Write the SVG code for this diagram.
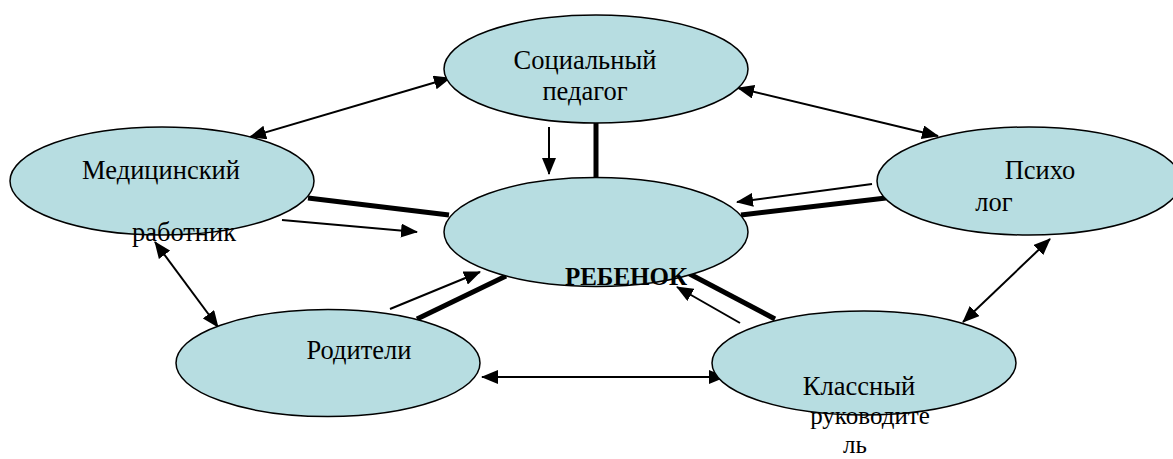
<svg xmlns="http://www.w3.org/2000/svg" width="1173" height="459" viewBox="0 0 1173 459">
<style>
.node{fill:#b7dde1;stroke:#000;stroke-width:1.5}
.t{font-family:"Liberation Serif","Times New Roman",serif;font-size:26.5px;fill:#000}
.s{font-size:25px}
.b{font-weight:bold;font-size:25px}
.thin{stroke:#000;stroke-width:2;fill:none}
.thick{stroke:#000;stroke-width:5;fill:none}
</style>
<defs>
<marker id="ah" markerUnits="userSpaceOnUse" markerWidth="17" markerHeight="14" refX="16" refY="7" orient="auto-start-reverse" viewBox="0 0 17 14">
<path d="M0,0 L17,7 L0,14 Z" fill="#000"/>
</marker>
</defs>
<rect width="1173" height="459" fill="#fff"/>
<g id="connectors">
<line class="thick" x1="596" y1="123" x2="596" y2="179"/>
<line class="thick" x1="308" y1="198" x2="449" y2="215"/>
<line class="thick" x1="886" y1="198" x2="741" y2="215"/>
<line class="thick" x1="417" y1="319" x2="506" y2="276"/>
<line class="thick" x1="775" y1="319" x2="684" y2="271"/>
<line class="thin" x1="549" y1="127" x2="549" y2="174" marker-end="url(#ah)"/>
<line class="thin" x1="282" y1="220" x2="417" y2="232" marker-end="url(#ah)"/>
<line class="thin" x1="872" y1="184" x2="737" y2="202" marker-end="url(#ah)"/>
<line class="thin" x1="390" y1="309" x2="480" y2="272" marker-end="url(#ah)"/>
<line class="thin" x1="740" y1="323" x2="677" y2="287" marker-end="url(#ah)"/>
<line class="thin" x1="250" y1="137" x2="450" y2="78" marker-start="url(#ah)" marker-end="url(#ah)"/>
<line class="thin" x1="738" y1="88" x2="938" y2="136" marker-start="url(#ah)" marker-end="url(#ah)"/>
<line class="thin" x1="1050" y1="239" x2="963" y2="322" marker-start="url(#ah)" marker-end="url(#ah)"/>
<line class="thin" x1="155" y1="242" x2="218" y2="327" marker-start="url(#ah)" marker-end="url(#ah)"/>
<line class="thin" x1="482" y1="377" x2="725" y2="377" marker-start="url(#ah)" marker-end="url(#ah)"/>
</g>
<g id="social">
<ellipse class="node" cx="596" cy="69" rx="152" ry="54"/>
<text class="t" x="585" y="69" text-anchor="middle">Социальный</text>
<text class="t" x="585" y="100" text-anchor="middle">педагог</text>
</g>
<g id="medic">
<ellipse class="node" cx="162" cy="181" rx="152" ry="54"/>
<text class="t" x="161" y="179" text-anchor="middle">Медицинский</text>
<text class="t" x="184" y="241" text-anchor="middle">работник</text>
</g>
<g id="psych">
<ellipse class="node" cx="1029" cy="181" rx="152" ry="54"/>
<text class="t" x="1040" y="179" text-anchor="middle">Психо</text>
<text class="t" x="994" y="211" text-anchor="middle">лог</text>
</g>
<g id="child">
<ellipse class="node" cx="596" cy="232" rx="152" ry="54.5"/>
<text class="t b" x="626" y="285" text-anchor="middle">РЕБЕНОК</text>
</g>
<g id="parents">
<ellipse class="node" cx="328" cy="363" rx="152" ry="53.5"/>
<text class="t" x="359" y="359" text-anchor="middle">Родители</text>
</g>
<g id="teacher">
<ellipse class="node" cx="864" cy="363" rx="152" ry="52"/>
<text class="t" x="859" y="395" text-anchor="middle">Классный</text>
<text class="t s" x="870" y="424" text-anchor="middle">руководите</text>
<text class="t s" x="855" y="453" text-anchor="middle">ль</text>
</g>
</svg>
